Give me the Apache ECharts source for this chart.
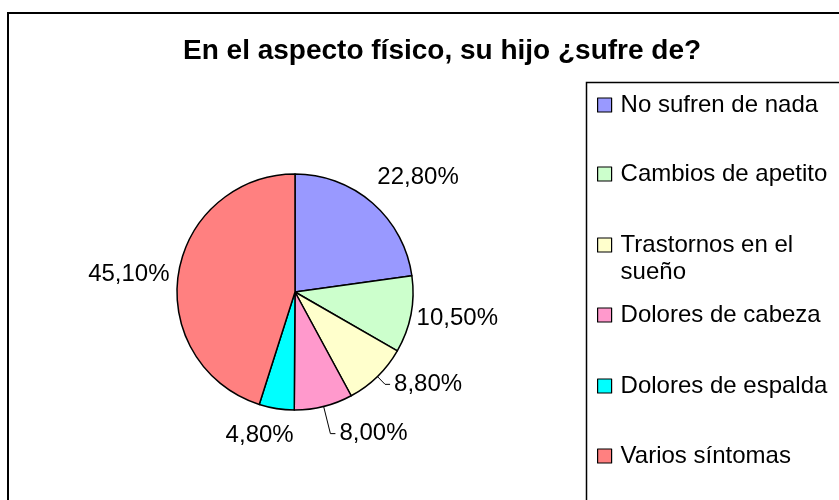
<!DOCTYPE html>
<html><head><meta charset="utf-8">
<script src="https://cdn.jsdelivr.net/npm/echarts@6/dist/echarts.min.js"></script>
<style>html,body{margin:0;padding:0;background:#fff}#c{width:839px;height:500px}</style>
</head><body><div id="c"></div>
<script>
const categories = ['No sufren de nada', 'Cambios de apetito', 'Trastornos en el sueño', 'Dolores de cabeza', 'Dolores de espalda', 'Varios síntomas'];
const values = [22.8, 10.5, 8.8, 8.0, 4.8, 45.1];
const colors = ['#9999FF', '#CCFFCC', '#FFFFCC', '#FF99CC', '#00FFFF', '#FF8080'];
const titleText = 'En el aspecto físico, su hijo ¿sufre de?';

const FONT = '"Liberation Sans", Arial, sans-serif';
const labelNudge = [[-12, -17], [-15, 2], [0, 0], [0, 0], [28, 15], [12, 2]];
const legendCenters = [105, 174, 245, 315, 386, 456];

const chart = echarts.init(document.getElementById('c'), null, {renderer: 'canvas'});

const pieData = categories.map((name, i) => {
  const item = {name: name, value: values[i], itemStyle: {color: colors[i]}};
  if (i === 2) item.labelLine = {show: true, length: 11, length2: 5};
  if (i === 3) item.labelLine = {show: true, length: 28, length2: 5};
  return item;
});

const legends = categories.map((name, i) => {
  const twoLine = name === 'Trastornos en el sueño';
  return {
    data: [name],
    orient: 'vertical',
    left: 597,
    top: twoLine ? legendCenters[i] - 40.5 : legendCenters[i] - 12,
    padding: 0,
    icon: 'rect',
    itemWidth: 14,
    itemHeight: 14,
    itemGap: 0,
    itemStyle: {borderColor: '#000', borderWidth: 1.2},
    formatter: twoLine ? '\nTrastornos en el\nsueño' : '{name}',
    textStyle: twoLine
      ? {fontFamily: FONT, fontSize: 24, color: '#000', lineHeight: 27, padding: [0, 0, 0, 4]}
      : {fontFamily: FONT, fontSize: 24, color: '#000', padding: [0, 0, 0, 4]}
  };
});

chart.setOption({
  backgroundColor: '#fff',
  animation: false,
  title: {
    text: titleText,
    left: 183,
    top: 37,
    padding: 0,
    textStyle: {fontFamily: FONT, fontSize: 28, fontWeight: 'bold', color: '#000'}
  },
  legend: legends,
  graphic: [
    {type: 'rect', z: -10, shape: {x: 8, y: 13, width: 900, height: 600}, style: {fill: 'none', stroke: '#000', lineWidth: 2}},
    {type: 'rect', z: -10, shape: {x: 586.5, y: 82.5, width: 400, height: 600}, style: {fill: 'none', stroke: '#000', lineWidth: 1.5}}
  ],
  series: [{
    type: 'pie',
    center: [295, 292],
    radius: 118,
    startAngle: 90,
    clockwise: true,
    avoidLabelOverlap: false,
    minShowLabelAngle: 0,
    itemStyle: {borderColor: '#000', borderWidth: 1.5},
    label: {
      show: true,
      position: 'outside',
      fontFamily: FONT,
      fontSize: 24,
      color: '#000',
      distanceToLabelLine: 4,
      formatter: p => p.value.toFixed(2).replace('.', ',') + '%'
    },
    labelLine: {show: false, length: 12, length2: 5, lineStyle: {color: '#000', width: 1}},
    labelLayout: function (p) {
      const n = labelNudge[p.dataIndex];
      if (!n[0] && !n[1]) return {};
      return {dx: n[0], dy: n[1]};
    },
    emphasis: {disabled: true},
    data: pieData
  }]
});
</script>
</body></html>
